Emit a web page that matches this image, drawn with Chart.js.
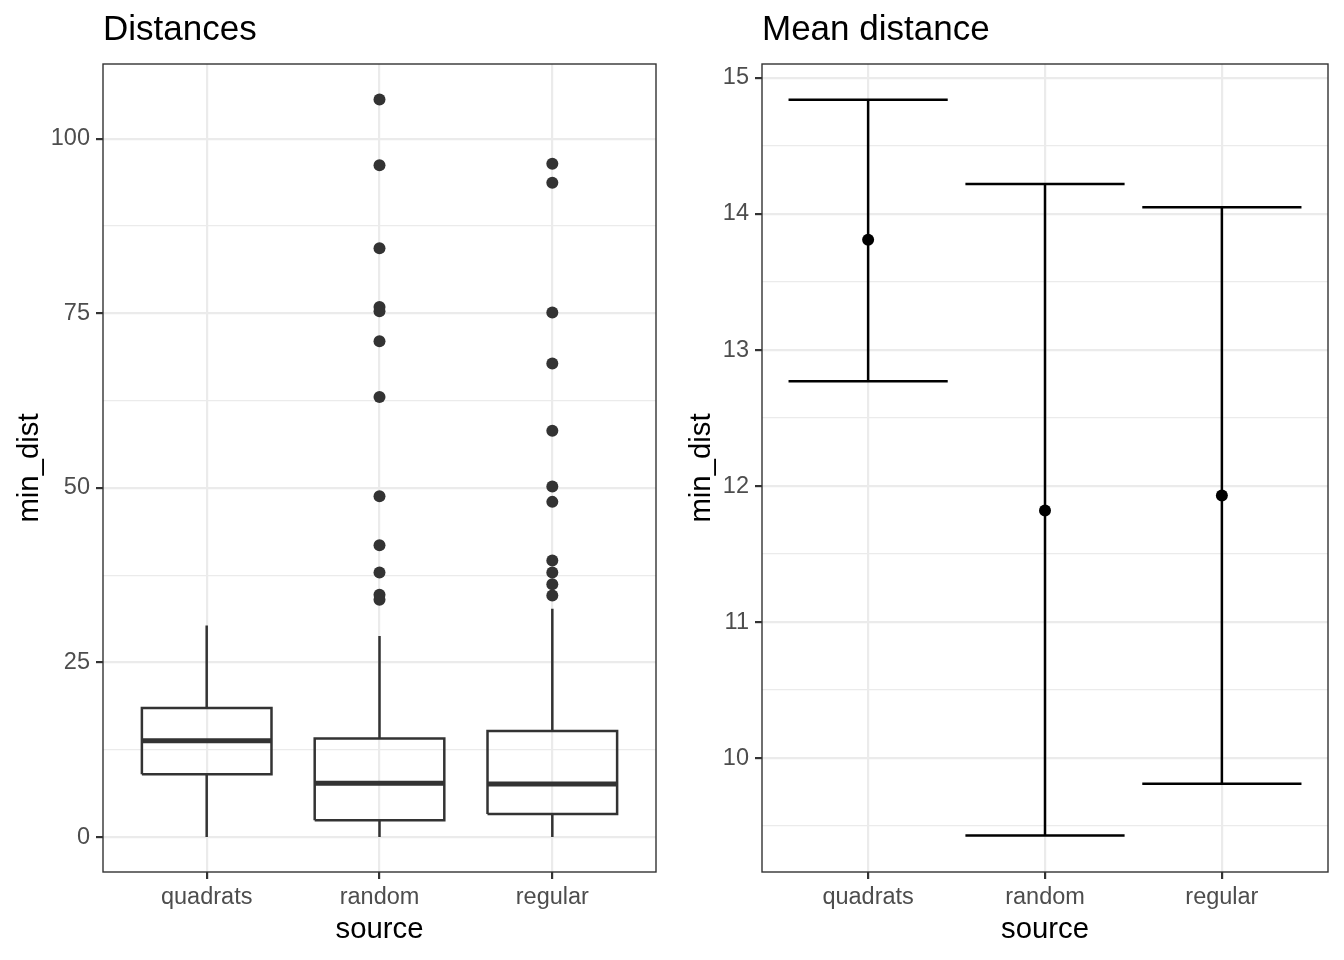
<!DOCTYPE html>
<html>
<head>
<meta charset="utf-8">
<script src="https://cdn.jsdelivr.net/npm/chart.js@4"></script>
<style>
  body { margin: 0; background: #fff; }
  #wrap { position: relative; width: 1344px; height: 960px; }
  canvas { position: absolute; top: 0; }
</style>
</head>
<body>
<div id="wrap">
  <canvas id="left" width="672" height="960" style="left:0"></canvas>
  <canvas id="right" width="672" height="960" style="left:672px"></canvas>
</div>
<script>
// values
const categories = ['quadrats', 'random', 'regular'];

const whiskerLow = [0, 0, 0];
const boxQ1 = [9.0, 2.4, 3.3];
const boxMedian = [13.8, 7.7, 7.6];
const boxQ3 = [18.5, 14.1, 15.2];
const whiskerHigh = [30.3, 28.8, 32.7];
const outliersRandom = [105.6, 96.2, 84.3, 75.9, 75.3, 71.0, 63.0, 48.8, 41.8, 37.9, 34.7, 34.0];
const outliersRegular = [96.4, 93.7, 75.1, 67.8, 58.2, 50.2, 48.0, 39.6, 37.9, 36.2, 34.6];

const meanDist = [13.81, 11.82, 11.93];
const ciLower = [12.77, 9.43, 9.81];
const ciUpper = [14.84, 14.22, 14.05];

const leftMajor = [0, 25, 50, 75, 100];
const leftMinor = [12.5, 37.5, 62.5, 87.5];
const rightMajor = [10, 11, 12, 13, 14, 15];
const rightMinor = [9.5, 10.5, 11.5, 12.5, 13.5, 14.5];

const FONT = "'Liberation Sans', Arial, sans-serif";
const GRID = '#EBEBEB';
const INK = '#333333';
const boxHalf = 0.375;
const capHalf = 0.45;

const panelBorder = {
    id: 'panelBorder',
    afterDatasetsDraw(chart) {
        const a = chart.chartArea;
        const ctx = chart.ctx;
        ctx.save();
        ctx.strokeStyle = INK;
        ctx.lineWidth = 1.4;
        ctx.strokeRect(a.left, a.top, a.right - a.left, a.bottom - a.top);
        ctx.restore();
    }
};

function seg(x1, y1, x2, y2) {
    return [{x: x1, y: y1}, {x: x2, y: y2}, {x: x2, y: null}];
}

function lineSet(points, color, width) {
    return {
        type: 'scatter',
        data: points,
        showLine: true,
        spanGaps: false,
        borderColor: color,
        borderWidth: width,
        pointRadius: 0,
        borderCapStyle: 'butt',
        borderJoinStyle: 'miter'
    };
}

function xAxis() {
    return {
        type: 'linear',
        min: 0.4,
        max: 3.6,
        afterBuildTicks: s => { s.ticks = categories.map((c, i) => ({value: i + 1})); },
        afterFit: s => { s.height = 88; },
        ticks: {
            callback: v => categories[v - 1],
            color: '#4D4D4D',
            font: {family: FONT, size: 23.5},
            padding: 4,
            maxRotation: 0
        },
        grid: {color: GRID, lineWidth: 2.2, tickColor: INK, tickLength: 7, tickWidth: 2.2},
        border: {display: false},
        title: {display: true, text: 'source', color: '#000', font: {family: FONT, size: 29.3}, padding: {top: 0, bottom: 13}}
    };
}

function yAxis(min, max, major, minor, width) {
    const isMajor = c => major.includes(c.tick.value);
    return {
        type: 'linear',
        min: min,
        max: max,
        afterBuildTicks: s => { s.ticks = major.concat(minor).sort((a, b) => a - b).map(v => ({value: v})); },
        afterFit: s => { s.width = width; },
        ticks: {
            callback: v => major.includes(v) ? String(v) : '',
            color: '#4D4D4D',
            font: {family: FONT, size: 23.5},
            padding: 6
        },
        grid: {
            color: GRID,
            lineWidth: c => isMajor(c) ? 2.2 : 1.2,
            tickColor: c => isMajor(c) ? INK : 'rgba(0,0,0,0)',
            tickWidth: 2.2,
            tickLength: 7
        },
        border: {display: false},
        title: {display: true, text: 'min_dist', color: '#000', font: {family: FONT, size: 29.3}, padding: {top: 12, bottom: 0}}
    };
}

function titleOpts(text) {
    return {
        display: true,
        text: text,
        align: 'start',
        fullSize: false,
        color: '#000',
        font: {family: FONT, size: 35, weight: 'normal'},
        padding: {top: 9, bottom: 13}
    };
}

function boxChart() {
    const ctx = document.getElementById('left').getContext('2d');
    let boxes = [], medians = [], whiskers = [];
    categories.forEach((c, i) => {
        const x = i + 1;
        boxes.push({x: x - boxHalf, y: boxQ1[i]}, {x: x + boxHalf, y: boxQ1[i]},
                   {x: x + boxHalf, y: boxQ3[i]}, {x: x - boxHalf, y: boxQ3[i]},
                   {x: x - boxHalf, y: boxQ1[i]}, {x: x, y: null});
        medians.push(...seg(x - boxHalf, boxMedian[i], x + boxHalf, boxMedian[i]));
        whiskers.push(...seg(x, boxQ3[i], x, whiskerHigh[i]));
        whiskers.push(...seg(x, whiskerLow[i], x, boxQ1[i]));
    });
    const outliers = outliersRandom.map(v => ({x: 2, y: v}))
        .concat(outliersRegular.map(v => ({x: 3, y: v})));

    new Chart(ctx, {
        type: 'scatter',
        data: {
            datasets: [
                lineSet(whiskers, INK, 2.5),
                lineSet(boxes, INK, 2.5),
                lineSet(medians, INK, 5),
                {type: 'scatter', data: outliers, pointRadius: 6, pointBackgroundColor: INK, pointBorderWidth: 0}
            ]
        },
        options: {
            responsive: false,
            animation: false,
            layout: {padding: {left: 0, right: 16, top: 0, bottom: 0}},
            plugins: {legend: {display: false}, tooltip: {enabled: false}, title: titleOpts('Distances')},
            scales: {x: xAxis(), y: yAxis(-5.0, 110.7, leftMajor, leftMinor, 103)}
        },
        plugins: [panelBorder]
    });
}

function meanChart() {
    const ctx = document.getElementById('right').getContext('2d');
    let bars = [];
    categories.forEach((c, i) => {
        const x = i + 1;
        bars.push(...seg(x, ciLower[i], x, ciUpper[i]));
        bars.push(...seg(x - capHalf, ciUpper[i], x + capHalf, ciUpper[i]));
        bars.push(...seg(x - capHalf, ciLower[i], x + capHalf, ciLower[i]));
    });
    const means = meanDist.map((v, i) => ({x: i + 1, y: v}));

    new Chart(ctx, {
        type: 'scatter',
        data: {
            datasets: [
                lineSet(bars, '#000', 2.5),
                {type: 'scatter', data: means, pointRadius: 6, pointBackgroundColor: '#000', pointBorderWidth: 0}
            ]
        },
        options: {
            responsive: false,
            animation: false,
            layout: {padding: {left: 0, right: 16, top: 0, bottom: 0}},
            plugins: {legend: {display: false}, tooltip: {enabled: false}, title: titleOpts('Mean distance')},
            scales: {x: xAxis(), y: yAxis(9.162, 15.103, rightMajor, rightMinor, 90)}
        },
        plugins: [panelBorder]
    });
}

boxChart();
meanChart();
</script>
</body>
</html>
